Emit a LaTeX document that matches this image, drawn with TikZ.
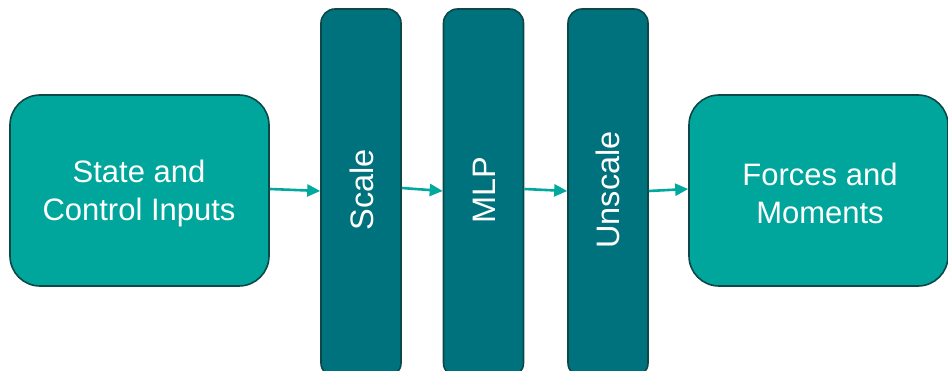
\documentclass[tikz,border=0pt]{standalone}
\usepackage{fontspec}
\setmainfont{Liberation Sans}
\usetikzlibrary{arrows.meta}
\definecolor{boxteal}{RGB}{0,166,156}
\definecolor{barteal}{RGB}{0,114,126}
\definecolor{edgedark}{RGB}{12,72,72}
\definecolor{arrowteal}{RGB}{0,168,158}
\begin{document}
\begin{tikzpicture}[x=1pt,y=-1pt,
  endbox/.style={draw=edgedark, line width=1.6pt, fill=boxteal, rounded corners=30pt,
    minimum width=259pt, minimum height=191pt, inner sep=0pt},
  boxtext/.style={align=center, text=white, font=\fontsize{31}{38}\selectfont, inner sep=0pt},
  bar/.style={draw=edgedark, line width=1.6pt, fill=barteal, rounded corners=14pt,
    minimum width=80pt, minimum height=368pt, inner sep=0pt},
  bartext/.style={text=white, font=\fontsize{32.5}{38}\selectfont, rotate=90, inner sep=0pt},
  conn/.style={draw=arrowteal, line width=2.6pt, -{Triangle[length=13pt,width=12pt]}}]
\useasboundingbox (0,0) rectangle (948,371);
\node[endbox] (in) at (139.5,190.5) {};
\node[boxtext] (inT) at (139,193) {State and\\Control Inputs};
\node[bar] (scale) at (361,193) {};
\node[bar] (mlp) at (483.5,193) {};
\node[bar] (unscale) at (608,193) {};
\node[bartext] (scaleT) at (361.5,190) {Scale};
\node[bartext] (mlpT) at (484,190) {MLP};
\node[bartext] (unscaleT) at (608,190) {Unscale};
\node[endbox] (out) at (818.5,190.5) {};
\node[boxtext] (outT) at (820,193) {Forces and\\Moments};
\coordinate (a1) at (in.east |- 0,189);
\coordinate (a2) at (scale.west |- 0,191);
\coordinate (b1) at (scale.east |- 0,188);
\coordinate (b2) at (mlp.west |- 0,191);
\coordinate (c1) at (mlp.east |- 0,189);
\coordinate (c2) at (unscale.west |- 0,191);
\coordinate (d1) at (unscale.east |- 0,191);
\coordinate (d2) at (out.west |- 0,189);
\draw[conn] (a1) -- (a2);
\draw[conn] (b1) -- (b2);
\draw[conn] (c1) -- (c2);
\draw[conn] (d1) -- (d2);
\end{tikzpicture}
\end{document}
